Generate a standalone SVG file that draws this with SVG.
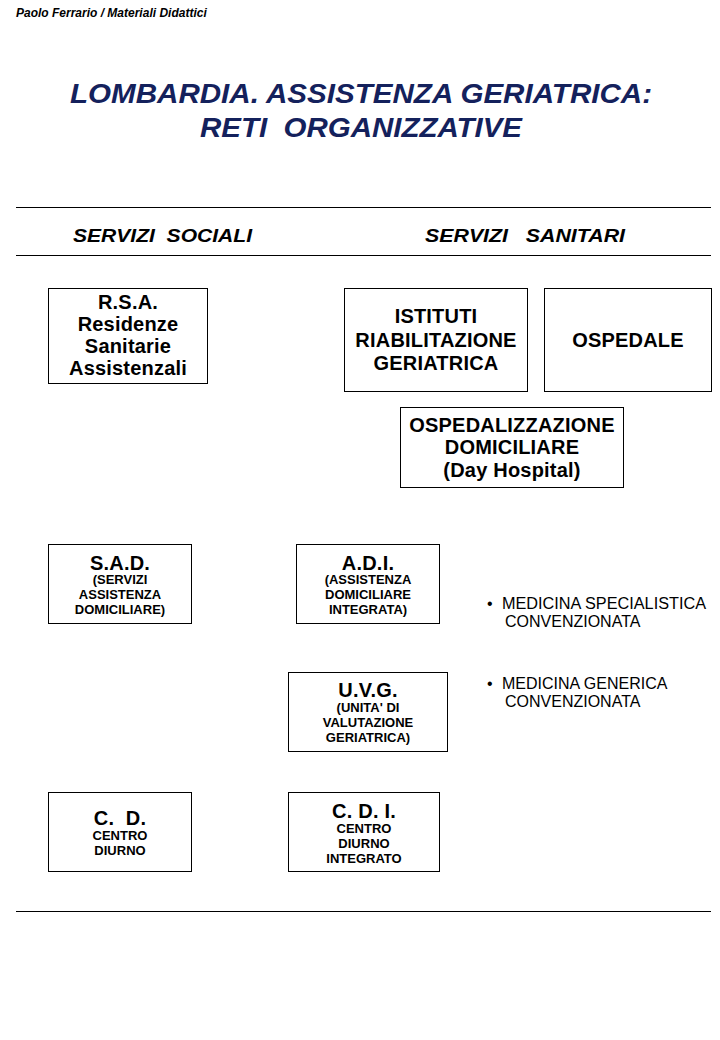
<svg xmlns="http://www.w3.org/2000/svg" width="720" height="1040" viewBox="0 0 720 1040">
<style>
.t{font-family:"Liberation Sans",Arial,sans-serif;fill:#000}
.b{font-weight:bold}
.box{fill:#fff;stroke:#000;stroke-width:1}
.big{font-size:20px;font-weight:bold;text-anchor:middle;letter-spacing:0.2px}
.sm{font-size:13px;font-weight:bold;text-anchor:middle}
.rule{stroke:#000;stroke-width:1}
</style>
<rect width="720" height="1040" fill="#fff"/>
<text class="t b" x="16" y="17" font-size="12" font-style="italic">Paolo Ferrario / Materiali Didattici</text>
<g id="title" font-family="Liberation Sans,Arial,sans-serif" font-weight="bold" font-style="italic" font-size="28" fill="#14215c">
<text x="70" y="103" textLength="582" lengthAdjust="spacingAndGlyphs">LOMBARDIA. ASSISTENZA GERIATRICA:</text>
<text x="200" y="137" xml:space="preserve" textLength="322" lengthAdjust="spacingAndGlyphs">RETI  ORGANIZZATIVE</text>
</g>
<g id="rules">
<line class="rule" x1="16" y1="207.5" x2="711" y2="207.5"/>
<line class="rule" x1="16" y1="255.5" x2="711" y2="255.5"/>
<line class="rule" x1="16" y1="911.5" x2="711" y2="911.5"/>
</g>
<g id="headers" font-family="Liberation Sans,Arial,sans-serif" font-weight="bold" font-style="italic" font-size="19">
<text x="73" y="242" xml:space="preserve" textLength="179" lengthAdjust="spacingAndGlyphs">SERVIZI  SOCIALI</text>
<text x="425" y="242" xml:space="preserve" textLength="200" lengthAdjust="spacingAndGlyphs">SERVIZI   SANITARI</text>
</g>
<g id="rsa">
<rect class="box" x="48.5" y="288.5" width="159" height="95"/>
<text class="t big" x="128" y="309">R.S.A.</text>
<text class="t big" x="128" y="331">Residenze</text>
<text class="t big" x="128" y="353">Sanitarie</text>
<text class="t big" x="128" y="375">Assistenzali</text>
</g>
<g id="istituti">
<rect class="box" x="344.5" y="288.5" width="183" height="103"/>
<text class="t big" x="436" y="323">ISTITUTI</text>
<text class="t big" x="436" y="347">RIABILITAZIONE</text>
<text class="t big" x="436" y="370">GERIATRICA</text>
</g>
<g id="ospedale">
<rect class="box" x="544.5" y="288.5" width="167" height="103"/>
<text class="t big" x="628" y="347">OSPEDALE</text>
</g>
<g id="ospdom">
<rect class="box" x="400.5" y="407.5" width="223" height="80"/>
<text class="t big" x="512" y="432">OSPEDALIZZAZIONE</text>
<text class="t big" x="512" y="454">DOMICILIARE</text>
<text class="t big" x="512" y="477">(Day Hospital)</text>
</g>
<g id="sad">
<rect class="box" x="48.5" y="544.5" width="143" height="79"/>
<text class="t big" x="120" y="570">S.A.D.</text>
<text class="t sm" x="120" y="584">(SERVIZI</text>
<text class="t sm" x="120" y="599">ASSISTENZA</text>
<text class="t sm" x="120" y="614">DOMICILIARE)</text>
</g>
<g id="adi">
<rect class="box" x="296.5" y="544.5" width="143" height="79"/>
<text class="t big" x="368" y="570">A.D.I.</text>
<text class="t sm" x="368" y="584">(ASSISTENZA</text>
<text class="t sm" x="368" y="599">DOMICILIARE</text>
<text class="t sm" x="368" y="614">INTEGRATA)</text>
</g>
<g id="uvg">
<rect class="box" x="288.5" y="672.5" width="159" height="79"/>
<text class="t big" x="368" y="697">U.V.G.</text>
<text class="t sm" x="368" y="712">(UNITA' DI</text>
<text class="t sm" x="368" y="727">VALUTAZIONE</text>
<text class="t sm" x="368" y="742">GERIATRICA)</text>
</g>
<g id="cd">
<rect class="box" x="48.5" y="792.5" width="143" height="79"/>
<text class="t big" x="120" y="825" xml:space="preserve">C.  D.</text>
<text class="t sm" x="120" y="840">CENTRO</text>
<text class="t sm" x="120" y="855">DIURNO</text>
</g>
<g id="cdi">
<rect class="box" x="288.5" y="792.5" width="151" height="79"/>
<text class="t big" x="364" y="818">C. D. I.</text>
<text class="t sm" x="364" y="833">CENTRO</text>
<text class="t sm" x="364" y="848">DIURNO</text>
<text class="t sm" x="364" y="863">INTEGRATO</text>
</g>
<g id="medicina" font-family="Liberation Sans,Arial,sans-serif" font-size="16">
<text x="487" y="609">•</text>
<text x="502" y="609" textLength="204" lengthAdjust="spacingAndGlyphs">MEDICINA SPECIALISTICA</text>
<text x="505" y="627">CONVENZIONATA</text>
<text x="487" y="689">•</text>
<text x="502" y="689">MEDICINA GENERICA</text>
<text x="505" y="707">CONVENZIONATA</text>
</g>
<g id="connectors"></g>
</svg>
